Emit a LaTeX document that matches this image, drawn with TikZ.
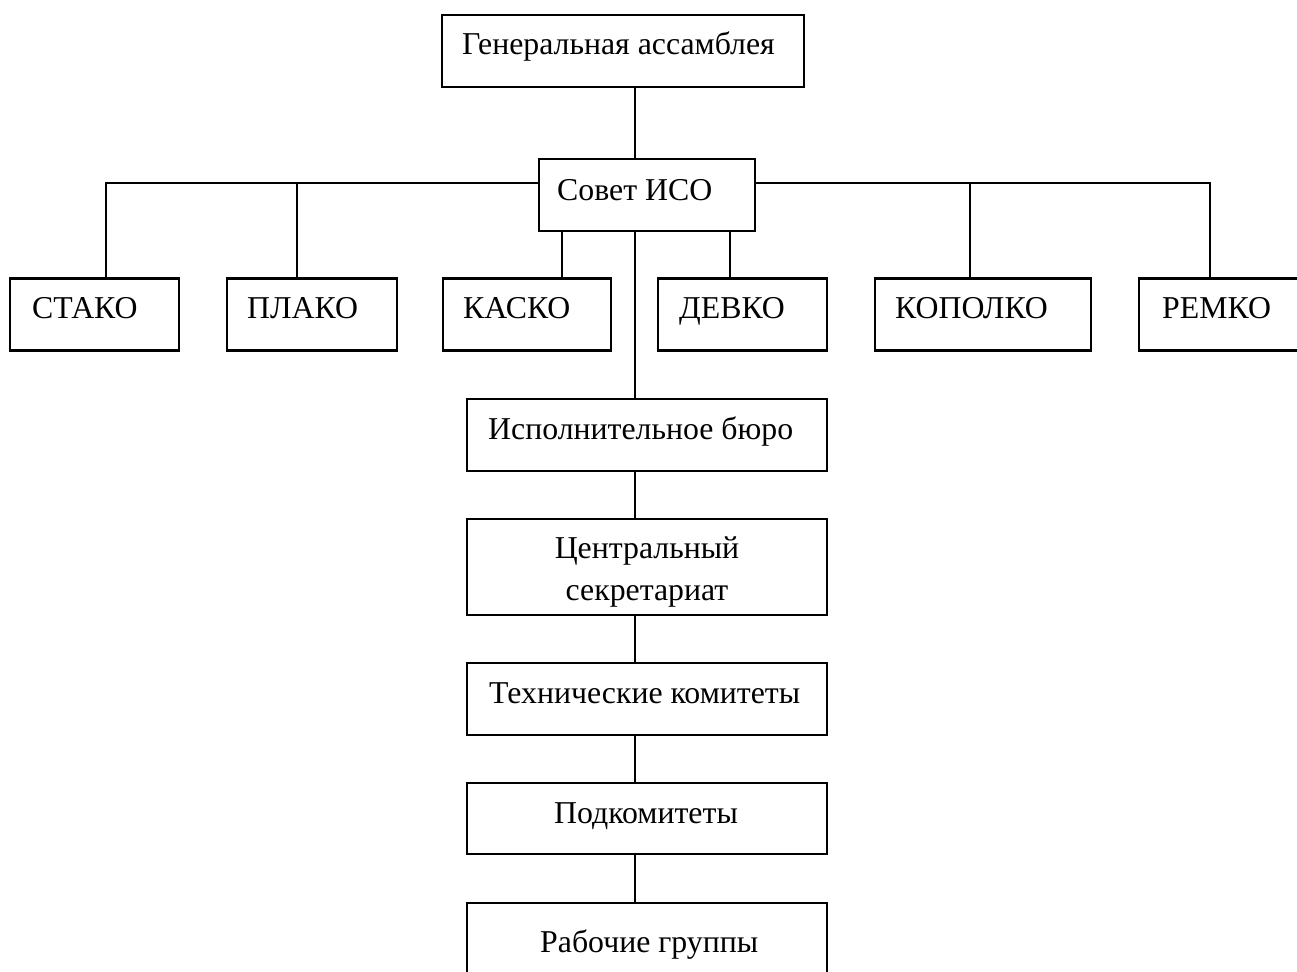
\documentclass[tikz,border=0pt]{standalone}
\usepackage{fontspec}
\setmainfont{Liberation Serif}
\begin{document}
\begin{tikzpicture}[x=1pt,y=-1pt,
  box/.style={draw=black,line width=2.2pt,rectangle,inner sep=0pt,fill=none},
  conn/.style={draw=black,line width=2.2pt},
  txt/.style={inner sep=0pt,anchor=base west,font=\fontsize{31.8}{42}\selectfont},
  ctxt/.style={inner sep=0pt,anchor=base,align=center,font=\fontsize{31.8}{42}\selectfont}]
\useasboundingbox[fill=white] (0,0) rectangle (1297,971);
% boxes
\node[box,minimum width=362pt,minimum height=72pt] (ga) at (623,51) {};
\node[box,minimum width=216pt,minimum height=72pt] (sovet) at (647,195) {};
\node[box,minimum width=169pt,minimum height=72pt] (stako) at (94.5,314.5) {};
\node[box,minimum width=170pt,minimum height=72pt] (plako) at (312,314.5) {};
\node[box,minimum width=168pt,minimum height=72pt] (kasko) at (527,314.5) {};
\node[box,minimum width=169pt,minimum height=72pt] (devko) at (742.5,314.5) {};
\node[box,minimum width=216pt,minimum height=72pt] (kopolko) at (983,314.5) {};
\node[box,minimum width=170pt,minimum height=72pt] (remko) at (1224,314.5) {};
\node[box,minimum width=360pt,minimum height=72pt] (isp) at (647,435) {};
\node[box,minimum width=360pt,minimum height=96pt] (centr) at (647,567) {};
\node[box,minimum width=360pt,minimum height=72pt] (tech) at (647,699) {};
\node[box,minimum width=360pt,minimum height=71pt] (pod) at (647,818.5) {};
\node[box,minimum width=360pt,minimum height=96pt] (rab) at (647,951) {};
% texts
\node[txt] (tga) at (462,55) {Генеральная ассамблея};
\node[txt] (tsovet) at (557,200) {Совет ИСО};
\node[txt] (tstako) at (32,318) {СТАКО};
\node[txt] (tplako) at (247,318) {ПЛАКО};
\node[txt] (tkasko) at (463,318) {КАСКО};
\node[txt] (tdevko) at (679,318) {ДЕВКО};
\node[txt] (tkopolko) at (895,318) {КОПОЛКО};
\node[txt] (tremko) at (1162,318) {РЕМКО};
\node[txt] (tisp) at (488,439) {Исполнительное бюро};
\node[ctxt] (tcentr) at (647,600) {Центральный\\секретариат};
\node[txt] (ttech) at (489,703) {Технические комитеты};
\node[ctxt] (tpod) at (646,823) {Подкомитеты};
\node[txt] (trab) at (540,952) {Рабочие группы};
% connectors
\coordinate (trunk) at (635,0);
\coordinate (bus) at (0,183);
\draw[conn] (ga.south -| trunk) -- (sovet.north -| trunk);
\draw[conn] (sovet.west |- bus) -| ([xshift=97pt]stako.north west);
\draw[conn] (sovet.west |- bus) -| ([xshift=71pt]plako.north west);
\draw[conn] (sovet.east |- bus) -| ([xshift=96pt]kopolko.north west);
\draw[conn] (sovet.east |- bus) -| ([xshift=72pt]remko.north west);
\draw[conn] ([xshift=24pt]sovet.south west) -- ([xshift=24pt]sovet.south west |- kasko.north);
\draw[conn] ([xshift=192pt]sovet.south west) -- ([xshift=192pt]sovet.south west |- devko.north);
\draw[conn] (sovet.south -| trunk) -- (isp.north -| trunk);
\draw[conn] (isp.south -| trunk) -- (centr.north -| trunk);
\draw[conn] (centr.south -| trunk) -- (tech.north -| trunk);
\draw[conn] (tech.south -| trunk) -- (pod.north -| trunk);
\draw[conn] (pod.south -| trunk) -- (rab.north -| trunk);
\end{tikzpicture}
\end{document}
